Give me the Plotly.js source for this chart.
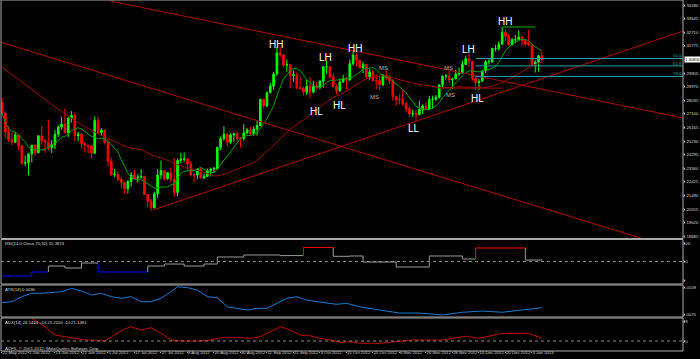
<!DOCTYPE html>
<html><head><meta charset="utf-8">
<script src="https://cdn.plot.ly/plotly-3.0.1.min.js"></script>
<style>html,body{margin:0;padding:0;background:#000;overflow:hidden}#chart{width:700px;height:359px}</style>
</head><body><div id="chart"></div>
<script>
// ---------- data (EURUSD daily) ----------
const tickBars = [0,8,16,24,32,40,48,56,64,72,80,88,96,104,112,120,128,136,144,152,160];
const tickDates = ["22 May 2012","1 Jun 2012","13 Jun 2012","21 Jun 2012","5 Jul 2012","17 Jul 2012","27 Jul 2012","8 Aug 2012","20 Aug 2012","30 Aug 2012","11 Sep 2012","21 Sep 2012","3 Oct 2012","15 Oct 2012","25 Oct 2012","6 Nov 2012","16 Nov 2012","28 Nov 2012","10 Dec 2012","20 Dec 2012","3 Jan 2013"];

const opens = [1.2788,1.2717,1.2585,1.2535,1.2516,1.2565,1.2490,1.2370,1.2375,1.2435,1.2495,1.2443,1.2560,1.2525,1.2515,1.2478,1.2500,1.2570,1.2620,1.2640,1.2580,1.2680,1.2700,1.2560,1.2570,1.2505,1.2493,1.2490,1.2440,1.2665,1.2580,1.2600,1.2515,1.2385,1.2290,1.2295,1.2260,1.2240,1.2195,1.2245,1.2290,1.2270,1.2275,1.2280,1.2155,1.2110,1.2065,1.2160,1.2290,1.2320,1.2265,1.2305,1.2260,1.2170,1.2390,1.2400,1.2400,1.2365,1.2290,1.2290,1.2330,1.2270,1.2280,1.2320,1.2330,1.2335,1.2480,1.2540,1.2570,1.2515,1.2565,1.2575,1.2540,1.2540,1.2580,1.2600,1.2575,1.2605,1.2630,1.2810,1.2765,1.2855,1.2900,1.2985,1.3130,1.3115,1.3045,1.3050,1.2975,1.2980,1.2890,1.2885,1.2860,1.2900,1.2860,1.2900,1.2895,1.2935,1.3035,1.3035,1.2965,1.2900,1.2870,1.2930,1.2955,1.2945,1.3055,1.3115,1.3080,1.3030,1.3050,1.2965,1.3000,1.2940,1.2940,1.2910,1.2975,1.2960,1.2940,1.2830,1.2810,1.2810,1.2780,1.2745,1.2710,1.2715,1.2705,1.2740,1.2765,1.2745,1.2810,1.2810,1.2825,1.2910,1.2970,1.2970,1.2945,1.2950,1.2985,1.2990,1.3050,1.3090,1.3070,1.2955,1.2925,1.2935,1.3005,1.3070,1.3070,1.3160,1.3160,1.3190,1.3270,1.3245,1.3185,1.3220,1.3220,1.3240,1.3215,1.3195,1.3185,1.3050,1.3065,1.3110];
const highs = [1.2818,1.2729,1.2626,1.2580,1.2582,1.2575,1.2495,1.2425,1.2440,1.2495,1.2500,1.2560,1.2624,1.2540,1.2670,1.2530,1.2600,1.2630,1.2690,1.2747,1.2690,1.2730,1.2720,1.2586,1.2580,1.2515,1.2500,1.2495,1.2692,1.2690,1.2610,1.2600,1.2535,1.2410,1.2330,1.2315,1.2275,1.2240,1.2255,1.2310,1.2325,1.2295,1.2330,1.2285,1.2160,1.2125,1.2175,1.2330,1.2390,1.2325,1.2310,1.2340,1.2405,1.2405,1.2443,1.2445,1.2405,1.2385,1.2300,1.2335,1.2345,1.2300,1.2335,1.2340,1.2345,1.2485,1.2555,1.2625,1.2580,1.2575,1.2580,1.2590,1.2550,1.2640,1.2615,1.2620,1.2625,1.2665,1.2815,1.2815,1.2865,1.2925,1.3000,1.3170,1.3170,1.3120,1.3085,1.3055,1.3010,1.2995,1.2970,1.2900,1.2945,1.2960,1.2935,1.2930,1.2945,1.3040,1.3075,1.3035,1.2990,1.2915,1.2955,1.2980,1.2965,1.3085,1.3140,1.3130,1.3080,1.3070,1.3055,1.3020,1.3015,1.2985,1.2975,1.2985,1.3010,1.2980,1.2950,1.2830,1.2845,1.2880,1.2790,1.2760,1.2740,1.2735,1.2800,1.2775,1.2790,1.2835,1.2835,1.2840,1.2900,1.2975,1.2985,1.3005,1.2960,1.3015,1.3030,1.3075,1.3110,1.3125,1.3080,1.2970,1.2950,1.3010,1.3080,1.3090,1.3165,1.3185,1.3210,1.3308,1.3290,1.3260,1.3230,1.3255,1.3285,1.3245,1.3225,1.3290,1.3195,1.3080,1.3115,1.3135];
const lows = [1.2712,1.2545,1.2516,1.2495,1.2510,1.2463,1.2356,1.2350,1.2288,1.2375,1.2420,1.2440,1.2500,1.2440,1.2460,1.2440,1.2468,1.2550,1.2600,1.2580,1.2550,1.2650,1.2520,1.2520,1.2475,1.2445,1.2440,1.2405,1.2435,1.2580,1.2560,1.2500,1.2350,1.2285,1.2275,1.2245,1.2200,1.2160,1.2165,1.2210,1.2260,1.2240,1.2265,1.2160,1.2066,1.2042,1.2060,1.2130,1.2260,1.2250,1.2255,1.2240,1.2140,1.2145,1.2370,1.2380,1.2325,1.2280,1.2240,1.2260,1.2265,1.2260,1.2275,1.2280,1.2305,1.2325,1.2460,1.2525,1.2485,1.2505,1.2515,1.2520,1.2480,1.2525,1.2570,1.2560,1.2560,1.2560,1.2625,1.2745,1.2755,1.2855,1.2875,1.2975,1.3100,1.3030,1.3000,1.2885,1.2930,1.2880,1.2880,1.2835,1.2840,1.2820,1.2850,1.2880,1.2880,1.2890,1.2985,1.2950,1.2890,1.2845,1.2860,1.2925,1.2880,1.2935,1.3045,1.3035,1.3020,1.2990,1.2950,1.2945,1.2935,1.2880,1.2875,1.2900,1.2945,1.2915,1.2800,1.2765,1.2775,1.2765,1.2720,1.2690,1.2690,1.2660,1.2700,1.2710,1.2735,1.2740,1.2745,1.2800,1.2815,1.2895,1.2945,1.2920,1.2880,1.2950,1.2970,1.2985,1.3045,1.3035,1.2940,1.2875,1.2875,1.2930,1.2990,1.3050,1.3060,1.3140,1.3145,1.3185,1.3210,1.3180,1.3180,1.3200,1.3220,1.3180,1.3175,1.3180,1.3045,1.2995,1.3000,1.3060];
const closes = [1.2717,1.2585,1.2535,1.2516,1.2565,1.2490,1.2370,1.2375,1.2435,1.2495,1.2443,1.2560,1.2525,1.2515,1.2478,1.2500,1.2570,1.2620,1.2640,1.2580,1.2680,1.2700,1.2560,1.2570,1.2505,1.2493,1.2490,1.2440,1.2665,1.2580,1.2600,1.2515,1.2385,1.2290,1.2295,1.2260,1.2240,1.2195,1.2245,1.2290,1.2270,1.2275,1.2280,1.2155,1.2110,1.2065,1.2160,1.2290,1.2320,1.2265,1.2305,1.2260,1.2170,1.2390,1.2400,1.2400,1.2365,1.2290,1.2290,1.2330,1.2270,1.2280,1.2320,1.2330,1.2335,1.2480,1.2540,1.2570,1.2515,1.2565,1.2575,1.2540,1.2540,1.2580,1.2600,1.2575,1.2605,1.2630,1.2810,1.2765,1.2855,1.2900,1.2985,1.3130,1.3115,1.3045,1.3050,1.2975,1.2980,1.2890,1.2885,1.2860,1.2900,1.2860,1.2900,1.2895,1.2935,1.3035,1.3035,1.2965,1.2900,1.2870,1.2930,1.2955,1.2945,1.3055,1.3115,1.3080,1.3030,1.3050,1.2965,1.3000,1.2940,1.2940,1.2910,1.2975,1.2960,1.2940,1.2830,1.2810,1.2810,1.2780,1.2745,1.2710,1.2715,1.2705,1.2740,1.2765,1.2745,1.2810,1.2810,1.2825,1.2910,1.2970,1.2970,1.2945,1.2950,1.2985,1.2990,1.3050,1.3090,1.3070,1.2955,1.2925,1.2935,1.3005,1.3070,1.3070,1.3160,1.3160,1.3190,1.3270,1.3245,1.3185,1.3220,1.3220,1.3240,1.3215,1.3190,1.3185,1.3050,1.3065,1.3110,1.3083];

const fastPeriod = 8, slowPeriod = 34;
const slowEarlyBars = [0,4,8,12,16,20,24,28,32];
const slowEarlyVals = [1.3033,1.2964,1.2895,1.2826,1.2758,1.2695,1.2635,1.2585,1.2540];

const priceTicks = [1.34580,1.33645,1.32710,1.31775,1.29905,1.28970,1.28035,1.27100,1.26165,1.25230,1.24295,1.23360,1.22425,1.21490,1.20555,1.19620,1.18685];

// RSI steps (start bar, value)
const rsiBars = [0,9,14,19,24,29,44,49,55,61,65,73,84,91,100,105,109,119,129,139,143,158,163];
const rsiVals = [10.8,21.6,37.8,32.4,45.9,21.6,37.8,43.2,37.8,43.2,62.2,67.6,66,88,64,64.9,48.6,35.1,64.9,56.8,86.5,54,55.4];

const atrBars = [0,3,6,9,12,15,18,21,24,27,30,33,36,39,42,45,48,51,53,56,59,62,65,68,71,74,77,80,83,86,89,92,95,98,101,104,108,114,120,126,133,139,145,151,157,160,163];
const atrVals = [0.00863,0.00878,0.00950,0.00999,0.00999,0.01013,0.01022,0.01071,0.01032,0.00974,0.00999,0.00950,0.00927,0.00950,0.00878,0.00878,0.00927,0.01022,0.01094,0.01080,0.01047,0.00950,0.00935,0.00805,0.00782,0.00758,0.00782,0.00782,0.00855,0.00927,0.00950,0.00902,0.00878,0.00855,0.00840,0.00855,0.00805,0.00758,0.00714,0.00714,0.00686,0.00725,0.00743,0.00725,0.00758,0.00782,0.00791];

const adxBars = [9,13,16,19,22,25,28,31,34,37,39,42,45,48,51,54,57,60,63,66,72,75,78,81,84,87,90,93,96,99,102,105,108,114,118,124,133,140,144,151,159,163];
const adxVals = [53,40.7,28.7,26.2,24.8,21.5,21.5,20,28.7,37.4,40.7,36,39.3,31.2,21.5,20,20,20,21.5,24.8,24.8,23.9,26.2,33.5,40.7,36,28.7,27.7,23.9,21.5,18.1,19,16.7,16.7,19,21.5,21.5,27,24,31,31,24.1];

const trendLines = [ // [bar0, price0, bar1, price1]
  [32.6,1.3487,205.6,1.2682],
  [-0.6,1.3205,205.6,1.1767],
  [45.6,1.2049,205.6,1.3280]
];
const structLevel = [132,151.3,1.2888];
const hhLevel = [151,161,1.3308];
const fibFromBar = 143, fibLow = 1.2875, fibHigh = 1.3308;
const fibPct = [50.0,61.8,78.6];

const swingText = ["HH","LH","HL","HL","HH","MS","MS","LL","MS","MS","LH","HL","HH"];
const swingBar  = [82.7,97.8,94.8,102,106.6,115.3,112.6,124.4,134.9,135.5,140.7,143.7,151.9];
const swingPrice= [1.3191,1.3095,1.2730,1.2771,1.3157,1.3026,1.2826,1.2613,1.3026,1.2840,1.3150,1.2813,1.3349];

// ---------- build ----------
const N = closes.length;
const bars = closes.map((_,i)=>i);
function sma(p){return closes.map((_,i)=>{const s=Math.max(0,i-p+1);let t=0;for(let k=s;k<=i;k++)t+=closes[k];return t/(i-s+1);});}
const fast = sma(fastPeriod);
const slowAll = sma(slowPeriod);
const slowX=[],slowY=[];
slowEarlyBars.forEach((b,i)=>{slowX.push(b);slowY.push(slowEarlyVals[i]);});
for(let i=33;i<N;i++){slowX.push(i);slowY.push(slowAll[i]);}

const XR=[-0.3,205.6];
const H=351;
const dom=(a,b)=>[1-b/H,1-a/H];
const FONT='Liberation Sans, Arial, sans-serif';
const axisFont={family:FONT,size:4.3,color:'#d8d8d8'};

const traces=[];
traces.push({type:'candlestick',x:bars,open:opens,high:highs,low:lows,close:closes,xaxis:'x',yaxis:'y',
  increasing:{line:{color:'#00ff00',width:1},fillcolor:'#00ff00'},
  decreasing:{line:{color:'#ff0000',width:1},fillcolor:'#ff0000'},whiskerwidth:0,hoverinfo:'skip'});
traces.push({type:'scatter',mode:'lines',x:slowX,y:slowY,line:{color:'#9b0000',width:1},xaxis:'x',yaxis:'y',hoverinfo:'skip'});
traces.push({type:'scatter',mode:'lines',x:bars,y:fast,line:{color:'#00a000',width:1},xaxis:'x',yaxis:'y',hoverinfo:'skip'});
trendLines.forEach(t=>traces.push({type:'scatter',mode:'lines',x:[t[0],t[2]],y:[t[1],t[3]],line:{color:'#b00000',width:1},xaxis:'x',yaxis:'y',hoverinfo:'skip'}));
traces.push({type:'scatter',mode:'lines',x:[structLevel[0],structLevel[1]],y:[structLevel[2],structLevel[2]],line:{color:'#b00000',width:1},hoverinfo:'skip'});
traces.push({type:'scatter',mode:'lines',x:[hhLevel[0],hhLevel[1]],y:[hhLevel[2],hhLevel[2]],line:{color:'#00b000',width:1},hoverinfo:'skip'});
fibPct.forEach(p=>{const lv=fibHigh-(fibHigh-fibLow)*p/100;
  traces.push({type:'scatter',mode:'lines',x:[fibFromBar,XR[1]],y:[lv,lv],line:{color:'#1aa3a3',width:1},hoverinfo:'skip'});});

// RSI coloured steps
const rsiCol=v=>v>70?'#ff0000':(v<30?'#0000ff':'#9a9a9a');
const rsiSeg={};
for(let i=0;i<rsiBars.length;i++){
  const x0=rsiBars[i], x1=(i+1<rsiBars.length?rsiBars[i+1]:N-1), v=rsiVals[i], c=rsiCol(v);
  if(!rsiSeg[c]) rsiSeg[c]={x:[],y:[]};
  const s=rsiSeg[c];
  if(i>0){s.x.push(x0,x0);s.y.push(rsiVals[i-1],v);} else {s.x.push(x0);s.y.push(v);}
  s.x.push(x1,null);s.y.push(v,null);
}
Object.keys(rsiSeg).forEach(c=>traces.push({type:'scatter',mode:'lines',x:rsiSeg[c].x,y:rsiSeg[c].y,line:{color:c,width:1},xaxis:'x',yaxis:'y2',connectgaps:false,hoverinfo:'skip'}));
traces.push({type:'scatter',mode:'lines',x:atrBars,y:atrVals,line:{color:'#1b78d0',width:1},xaxis:'x',yaxis:'y3',hoverinfo:'skip'});
traces.push({type:'scatter',mode:'lines',x:adxBars,y:adxVals,line:{color:'#c00000',width:1},xaxis:'x',yaxis:'y4',hoverinfo:'skip'});

const yBase={side:'right',showgrid:false,zeroline:false,ticks:'outside',ticklen:1,tickcolor:'#c0c0c0',tickfont:axisFont,showline:false,fixedrange:true,ticklabelstandoff:-3};
const layout={
  width:700,height:359,margin:{l:1,r:17,t:0,b:8},paper_bgcolor:'#000',plot_bgcolor:'#000',showlegend:false,
  xaxis:{range:XR,anchor:'y4',showgrid:false,zeroline:false,tickvals:tickBars,ticktext:tickDates,tickfont:axisFont,tickangle:0,ticks:'outside',ticklen:1,tickcolor:'#c0c0c0',ticklabelposition:'outside right',ticklabelstandoff:-3,rangeslider:{visible:false},fixedrange:true},
  yaxis:Object.assign({},yBase,{domain:dom(0,238),range:[1.18563,1.34938],tickvals:priceTicks,ticktext:priceTicks.map(v=>v.toFixed(5))}),
  yaxis2:Object.assign({},yBase,{domain:dom(239,284),range:[-10.8,110.8],tickvals:[100,50,0],ticktext:['100','50','0']}),
  yaxis3:Object.assign({},yBase,{domain:dom(285,317),range:[0.006567,0.01119],tickvals:[0.0109,0.0070],ticktext:['0.0109','0.0070']}),
  yaxis4:Object.assign({},yBase,{domain:dom(318,351),range:[5.5,53.35],tickvals:[49,20],ticktext:['49','20']}),
  shapes:[],annotations:[]
};
const G='#a8a8a8';
[[0,238.5],[239.5,284],[285,317],[318,351]].forEach(p=>{
  layout.shapes.push({type:'rect',xref:'paper',yref:'paper',x0:0,x1:1,y0:1-p[1]/H,y1:1-p[0]/H,line:{color:G,width:1}});
});
layout.shapes.push({type:'line',xref:'paper',yref:'y2',x0:0,x1:1,y0:50,y1:50,line:{color:'#8a8a8a',width:1,dash:'dot'}});
layout.shapes.push({type:'line',xref:'paper',yref:'y4',x0:0,x1:1,y0:20,y1:20,line:{color:'#8a8a8a',width:1,dash:'dot'}});

swingText.forEach((t,i)=>{const ms=t==='MS';
  layout.annotations.push({xref:'x',yref:'y',x:swingBar[i],y:swingPrice[i],text:t,showarrow:false,
    font:{family:FONT,size:ms?6:10,color:ms?'#b8b8b8':'#ffffff'}});});
fibPct.forEach(p=>{const lv=fibHigh-(fibHigh-fibLow)*p/100;
  layout.annotations.push({xref:'paper',yref:'y',x:1,y:lv,xanchor:'right',yanchor:'bottom',text:p.toFixed(1),showarrow:false,font:{family:FONT,size:4.3,color:'#1aa3a3'},yshift:-1,borderpad:0});});
layout.annotations.push({xref:'paper',yref:'y',x:1,y:closes[N-1],xanchor:'left',text:closes[N-1].toFixed(5),showarrow:false,bgcolor:'#ffffff',font:{family:FONT,size:4.3,color:'#000'},borderpad:0,xshift:1});
const lab=(y,t)=>layout.annotations.push({xref:'paper',yref:'paper',x:0,y:1-y/H,xanchor:'left',yanchor:'top',text:t,showarrow:false,font:{family:FONT,size:4.3,color:'#d8d8d8'},xshift:3,borderpad:0});
lab(240,'RSI(14,0,Close,70,30) 55.3874');
lab(286,'ATR(14) 0.0090');
lab(319,'ADX(14) 24.1464 +DI:21.2050 -DI:21.1481');
lab(345,'ACFX, © 2001-2012, MetaQuotes Software Corp.');

Plotly.newPlot('chart',traces,layout,{staticPlot:true,displayModeBar:false});
</script></body></html>
